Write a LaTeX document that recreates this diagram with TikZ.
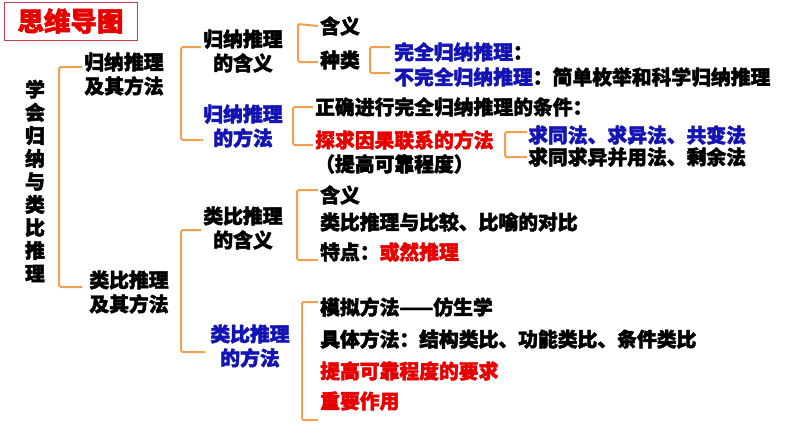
\documentclass[tikz,border=0pt]{standalone}
\usepackage{fontspec}
\usepackage{xcolor}
\usepackage{tikz}
\usetikzlibrary{positioning,calc}
\newfontfamily\cjk{Noto Sans CJK SC}[FakeBold=2.2]
\definecolor{brkcol}{RGB}{240,160,80}
\definecolor{bluecol}{RGB}{20,20,180}
\definecolor{redcol}{RGB}{230,0,0}
\definecolor{titlecol}{RGB}{200,60,80}

\begin{document}
\begin{tikzpicture}[x=1pt, y=-1pt,
  txt/.style={inner sep=0pt, font=\cjk\bfseries\fontsize{19.8}{24}\selectfont},
  item/.style={txt, anchor=west},
  head/.style={txt, align=center},
  brk/.style={draw=brkcol, line width=2pt, rounded corners=2pt}]
\useasboundingbox (0,0) rectangle (794,447);
% title
\node[draw=titlecol, line width=1pt, minimum width=133pt, minimum height=38pt,
  text=redcol, font=\cjk\bfseries\fontsize{26.5}{28}\selectfont] (title) at (70.5,21) {思维导图};
% root, written top to bottom
\node[head, font=\cjk\bfseries\fontsize{19.8}{23}\selectfont] (root) at (35,181)
  {学\\会\\归\\纳\\与\\类\\比\\推\\理};
% level 1
\node[head] (ind) at (124,74) {归纳推理\\及其方法};
\node[head] (ana) at (129,292) {类比推理\\及其方法};
% level 2
\node[head] (indm) at (243,51) {归纳推理\\的含义};
\node[head, text=bluecol] (indf) at (243,126) {归纳推理\\的方法};
\node[head] (anam) at (243,228) {类比推理\\的含义};
\node[head, text=bluecol] (anaf) at (250,346) {类比推理\\的方法};
% level 3, induction
\node[item] (mean1) at (320,26) {含义};
\node[item] (kind) at (320,60) {种类};
\node[item] (full) at (394,52) {\textcolor{bluecol}{完全归纳推理}：};
\node[item] (part) at (394,77) {\textcolor{bluecol}{不完全归纳推理}：简单枚举和科学归纳推理};
\node[item] (cond) at (315,107) {正确进行完全归纳推理的条件：};
\node[item, text=redcol] (cause) at (315,140) {探求因果联系的方法};
\node[item] (rely) at (315,164) {（提高可靠程度）};
\node[item, text=bluecol] (m1) at (528,135) {求同法、求异法、共变法};
\node[item] (m2) at (528,157) {求同求异并用法、剩余法};
% level 3, analogy
\node[item] (mean2) at (320,195) {含义};
\node[item] (comp) at (320,222) {类比推理与比较、比喻的对比};
\node[item] (feat) at (320,252) {特点：\textcolor{redcol}{或然推理}};
\node[item] (bio) at (320,307) {模拟方法——仿生学};
\node[item] (conc) at (320,339) {具体方法：结构类比、功能类比、条件类比};
\node[item, text=redcol] (req) at (320,371) {提高可靠程度的要求};
\node[item, text=redcol] (role) at (320,401) {重要作用};
% brackets
\draw[brk] ([xshift=-2pt,yshift=7pt]ind.west) -- ++(-23,0) |- ([xshift=-7pt,yshift=5pt]ana.west);
\draw[brk] ([xshift=-2pt,yshift=4pt]indm.west) -- ++(-20,0) |- ([xshift=0pt,yshift=-14pt]indf.west);
\draw[brk] ([xshift=-2pt,yshift=-2pt]anam.west) -- ++(-20,0) |- ([xshift=-5pt,yshift=-6pt]anaf.west);
\draw[brk] ([xshift=-2pt]mean1.west) -- ++(-20,-2) |- ([xshift=-2pt,yshift=-2pt]kind.west);
\draw[brk] ([xshift=-4pt,yshift=5pt]full.west) -- ++(-20,0) |- ([xshift=-4pt,yshift=4pt]part.west);
\draw[brk] ([xshift=-2pt]cond.west) -- ++(-20,0) |- ([xshift=-2pt,yshift=-5pt]cause.west);
\draw[brk] ([xshift=-1pt,yshift=3pt]m1.west) -- ++(-22,0) |- ([xshift=-1pt]m2.west);
\draw[brk] ([xshift=-2pt,yshift=5pt]mean2.west) -- ++(-21,0) |- ([xshift=-2pt,yshift=-8pt]feat.west);
\draw[brk] ([xshift=-2pt,yshift=5pt]bio.west) -- ++(-16,0) |- ([xshift=-2pt,yshift=-19pt]role.west);
\end{tikzpicture}
\end{document}
